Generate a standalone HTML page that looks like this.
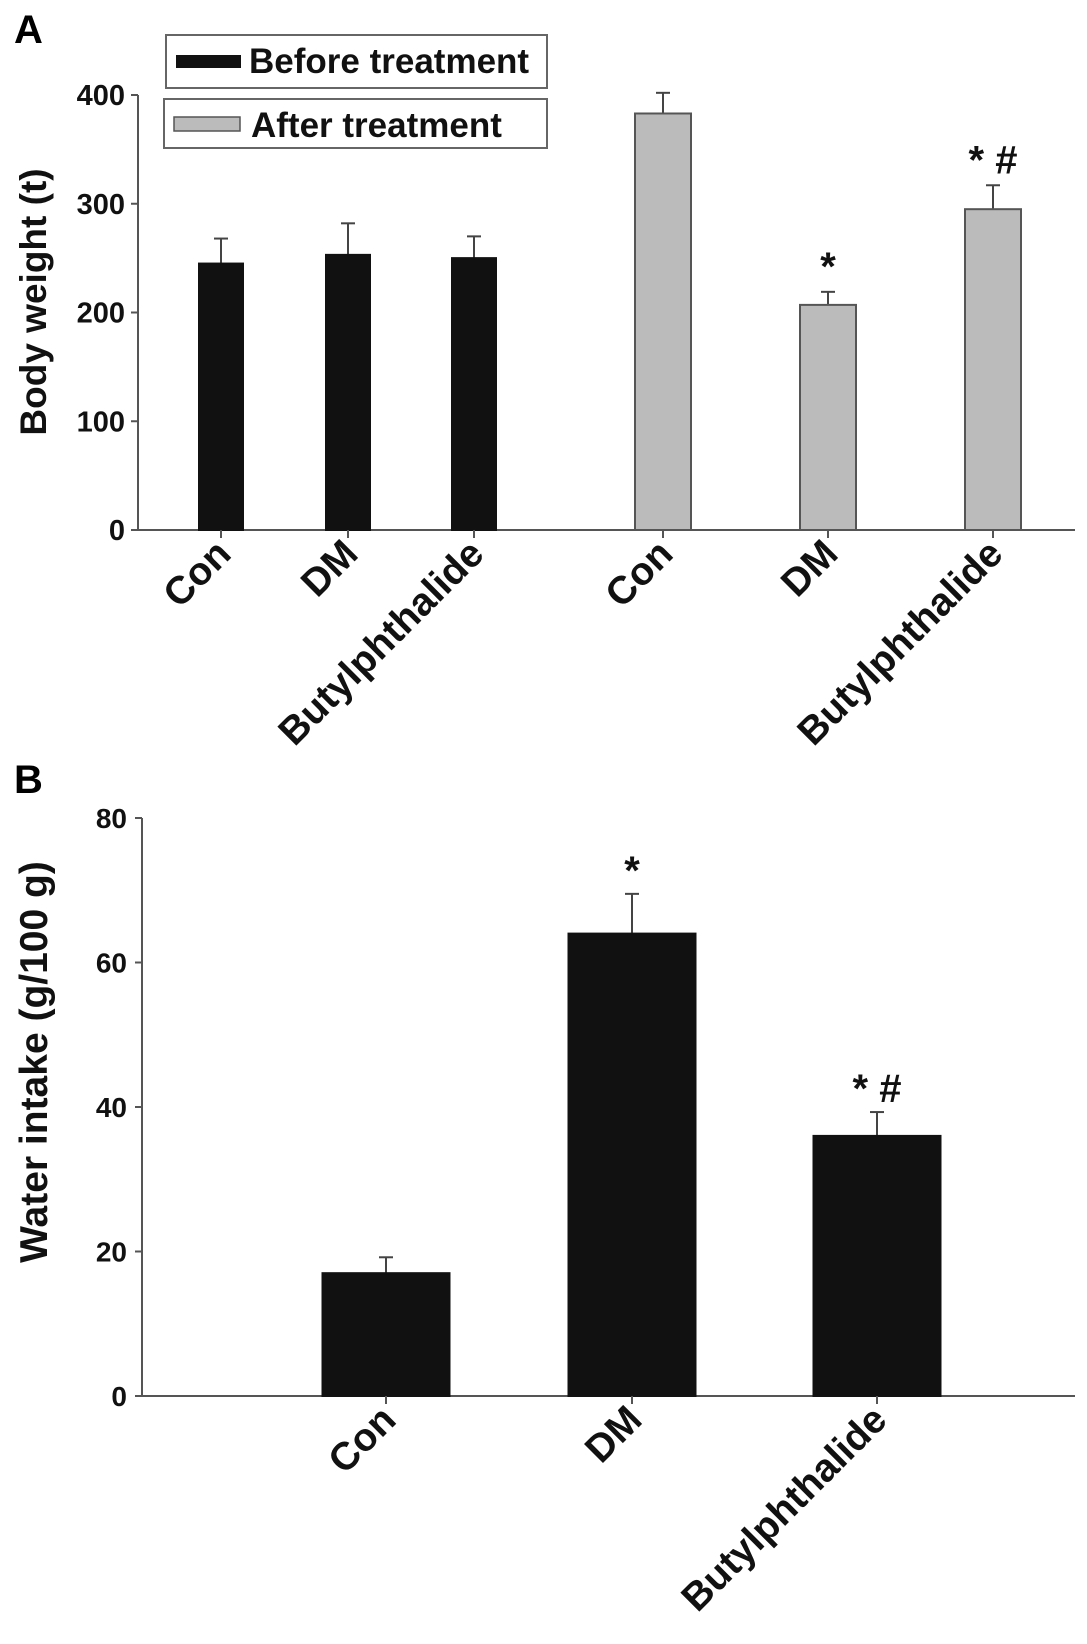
<!DOCTYPE html>
<html><head><meta charset="utf-8"><style>
html,body{margin:0;padding:0;background:#fff;}
svg{display:block;font-family:"Liberation Sans",Arial,sans-serif;font-weight:bold;}
</style></head><body>
<svg id="chart" width="1087" height="1644" viewBox="0 0 1087 1644" xmlns="http://www.w3.org/2000/svg">
<text x="14" y="43" font-size="40">A</text>
<text x="14" y="793" font-size="40">B</text>
<g id="gA"></g>
<g id="gB"></g>
</svg>
<script>
// Panel A data
const catsA = ["Con","DM","Butylphthalide"];
const beforeVals = [245, 253, 250];
const beforeErr = [23, 29, 20];
const afterVals = [383, 207, 295];
const afterErr = [19, 12, 22];
const afterMarks = ["", "*", "* #"];
const ticksA = [0,100,200,300,400];
// Panel B data
const catsB = ["Con","DM","Butylphthalide"];
const waterVals = [17.0, 64.0, 36.0];
const waterErr = [2.2, 5.5, 3.3];
const waterMarks = ["", "*", "* #"];
const ticksB = [0,20,40,60,80];

const NS="http://www.w3.org/2000/svg";
function mk(parent,tag,attrs,text){const e=document.createElementNS(NS,tag);for(const k in attrs)e.setAttribute(k,attrs[k]);if(text!==undefined)e.textContent=text;parent.appendChild(e);return e;}

// ---- Panel A ----
const gA=document.getElementById('gA');
const A={x0:138,x1:1075,y0:530,ytop:95,max:400};
const yA=v=>A.y0-(v/A.max)*(A.y0-A.ytop);
const beforeX=[221,348,474], afterX=[663,828,993];
const xBefore=i=>beforeX[i], xAfter=i=>afterX[i];
let ax=mk(gA,'line',{x1:A.x0,y1:A.ytop,x2:A.x0,y2:A.y0,stroke:'#555','stroke-width':2});


ax=mk(gA,'line',{x1:A.x0,y1:A.y0,x2:A.x1,y2:A.y0,stroke:'#555','stroke-width':2});


ticksA.forEach(t=>{
  const y=yA(t);
  mk(gA,'line',{x1:A.x0-7,y1:y,x2:A.x0,y2:y,stroke:'#555','stroke-width':2});
  const l=mk(gA,'text',{x:125,y:y+10,'font-size':29,'text-anchor':'end',fill:'#111'},String(t));
  
  
});
let tt=mk(gA,'text',{transform:'translate(46,302) rotate(-90)','font-size':37,'text-anchor':'middle',fill:'#111'},'Body weight (t)');


function bar(g,cx,w,v,e,yf,fill,stroke,name,y0){
  const top=yf(v), et=yf(v+e);
  mk(g,'line',{x1:cx,y1:top,x2:cx,y2:et,stroke:'#444','stroke-width':2});
  mk(g,'line',{x1:cx-7,y1:et,x2:cx+7,y2:et,stroke:'#444','stroke-width':2});
  const r=mk(g,'rect',{x:cx-w/2,y:top,width:w,height:y0-top,fill:fill,stroke:stroke,'stroke-width':2});
  
  
  mk(g,'line',{x1:cx,y1:y0,x2:cx,y2:y0+8,stroke:'#555','stroke-width':2});
}
function xlabel(g,cx,y0,txt,name){
  const t=mk(g,'text',{transform:`translate(${cx+12},${y0+26}) rotate(-45)`,'font-size':39,'text-anchor':'end',fill:'#111'},txt);
  
  
}
catsA.forEach((c,i)=>{
  bar(gA,xBefore(i),44,beforeVals[i],beforeErr[i],yA,'#111','#111','bar-before-'+c.toLowerCase(),A.y0);
  xlabel(gA,xBefore(i),A.y0,c,'x-label-before-'+c.toLowerCase());
  bar(gA,xAfter(i),56,afterVals[i],afterErr[i],yA,'#bbb','#555','bar-after-'+c.toLowerCase(),A.y0);
  xlabel(gA,xAfter(i),A.y0,c,'x-label-after-'+c.toLowerCase());
  if(afterMarks[i]){
    const m=mk(gA,'text',{x:xAfter(i),y:yA(afterVals[i]+afterErr[i])-12,'font-size':40,'text-anchor':'middle',fill:'#111'},afterMarks[i]);
    
    
  }
});
// legend
const lg=mk(gA,'g',{});


mk(lg,'rect',{x:166,y:35,width:381,height:53,fill:'#fff',stroke:'#666','stroke-width':2});
mk(lg,'rect',{x:164,y:99,width:383,height:49,fill:'#fff',stroke:'#666','stroke-width':2});
mk(lg,'rect',{x:176,y:55,width:65,height:13,fill:'#111'});
mk(lg,'rect',{x:174,y:117,width:66,height:14,fill:'#bbb',stroke:'#555','stroke-width':1.5});
let le=mk(lg,'text',{x:249,y:73,'font-size':35,fill:'#111'},'Before treatment');


le=mk(lg,'text',{x:251,y:137,'font-size':35,fill:'#111'},'After treatment');



// ---- Panel B ----
const gB=document.getElementById('gB');
const B={x0:142,x1:1075,y0:1396,ytop:818,max:80};
const yB=v=>B.y0-(v/B.max)*(B.y0-B.ytop);
const bX=[386,632,877];
const xB=i=>bX[i];
ax=mk(gB,'line',{x1:B.x0,y1:B.ytop,x2:B.x0,y2:B.y0,stroke:'#555','stroke-width':2});


ax=mk(gB,'line',{x1:B.x0,y1:B.y0,x2:B.x1,y2:B.y0,stroke:'#555','stroke-width':2});


ticksB.forEach(t=>{
  const y=yB(t);
  mk(gB,'line',{x1:B.x0-7,y1:y,x2:B.x0,y2:y,stroke:'#555','stroke-width':2});
  const l=mk(gB,'text',{x:127,y:y+10,'font-size':28,'text-anchor':'end',fill:'#111'},String(t));
  
  
});
tt=mk(gB,'text',{transform:'translate(47,1062) rotate(-90)','font-size':39,'text-anchor':'middle',fill:'#111'},'Water intake (g/100 g)');


catsB.forEach((c,i)=>{
  bar(gB,xB(i),127,waterVals[i],waterErr[i],yB,'#111','#111','bar-water-'+c.toLowerCase(),B.y0);
  xlabel(gB,xB(i),B.y0,c,'x-label-b-'+c.toLowerCase());
  if(waterMarks[i]){
    const m=mk(gB,'text',{x:xB(i),y:yB(waterVals[i]+waterErr[i])-10,'font-size':40,'text-anchor':'middle',fill:'#111'},waterMarks[i]);
    
    
  }
});
</script>
</body></html>
